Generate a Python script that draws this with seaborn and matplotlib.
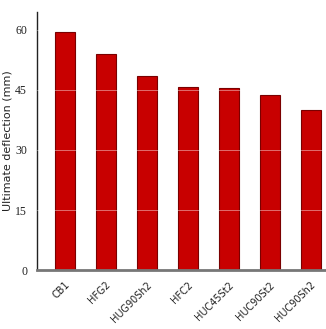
import matplotlib
matplotlib.use("Agg")
import matplotlib.pyplot as plt
import matplotlib.transforms as mtransforms
import seaborn as sns
import pandas as pd

categories = ["CB1", "HFG2", "HUG90Sh2", "HFC2", "HUC45St2", "HUC90St2", "HUC90Sh2"]
deflection = [59.5, 54.0, 48.5, 45.8, 45.4, 43.8, 40.0]
yticks = [0, 15, 30, 45, 60]

df = pd.DataFrame({"specimen": categories, "deflection": deflection})

sns.set_theme(style="white")
fig = plt.figure(figsize=(3.26, 3.29), dpi=100)
ax = fig.add_axes([0.113, 0.179, 0.884, 0.785])

sns.barplot(data=df, x="specimen", y="deflection", ax=ax, color="#c80000",
            saturation=1, width=0.49, edgecolor="#7a0000", linewidth=0.8, zorder=2)

for v in yticks[1:]:
    ax.axhline(v, color="white", lw=0.6, alpha=0.5, zorder=3)

ax.set_xlim(-0.68, 6.35)
ax.set_ylim(0, 64.5)
ax.set_yticks(yticks)
ax.set_yticklabels([str(v) for v in yticks], family="Liberation Serif", fontsize=8.5, color="#222222")
ax.set_xticks(range(len(categories)))
ax.set_xticklabels(categories, rotation=45, ha="right", rotation_mode="anchor",
                   fontsize=7, family="DejaVu Sans", color="#222222")
offset = mtransforms.ScaledTranslation(-6 / 100, -2 / 100, fig.dpi_scale_trans)
for lbl in ax.get_xticklabels():
    lbl.set_transform(lbl.get_transform() + offset)
ax.tick_params(axis="x", length=0, pad=7)
ax.tick_params(axis="y", length=0, pad=7)
ax.set_xlabel("")
ax.set_ylabel("Ultimate deflection (mm)", fontsize=8, family="DejaVu Sans", color="#222222", labelpad=2)

for s in ["top", "right"]:
    ax.spines[s].set_visible(False)
ax.spines["left"].set_color("#222222")
ax.spines["left"].set_linewidth(1.0)
ax.spines["bottom"].set_color("#777777")
ax.spines["bottom"].set_linewidth(2.0)

fig.savefig("out.png", dpi=100)
